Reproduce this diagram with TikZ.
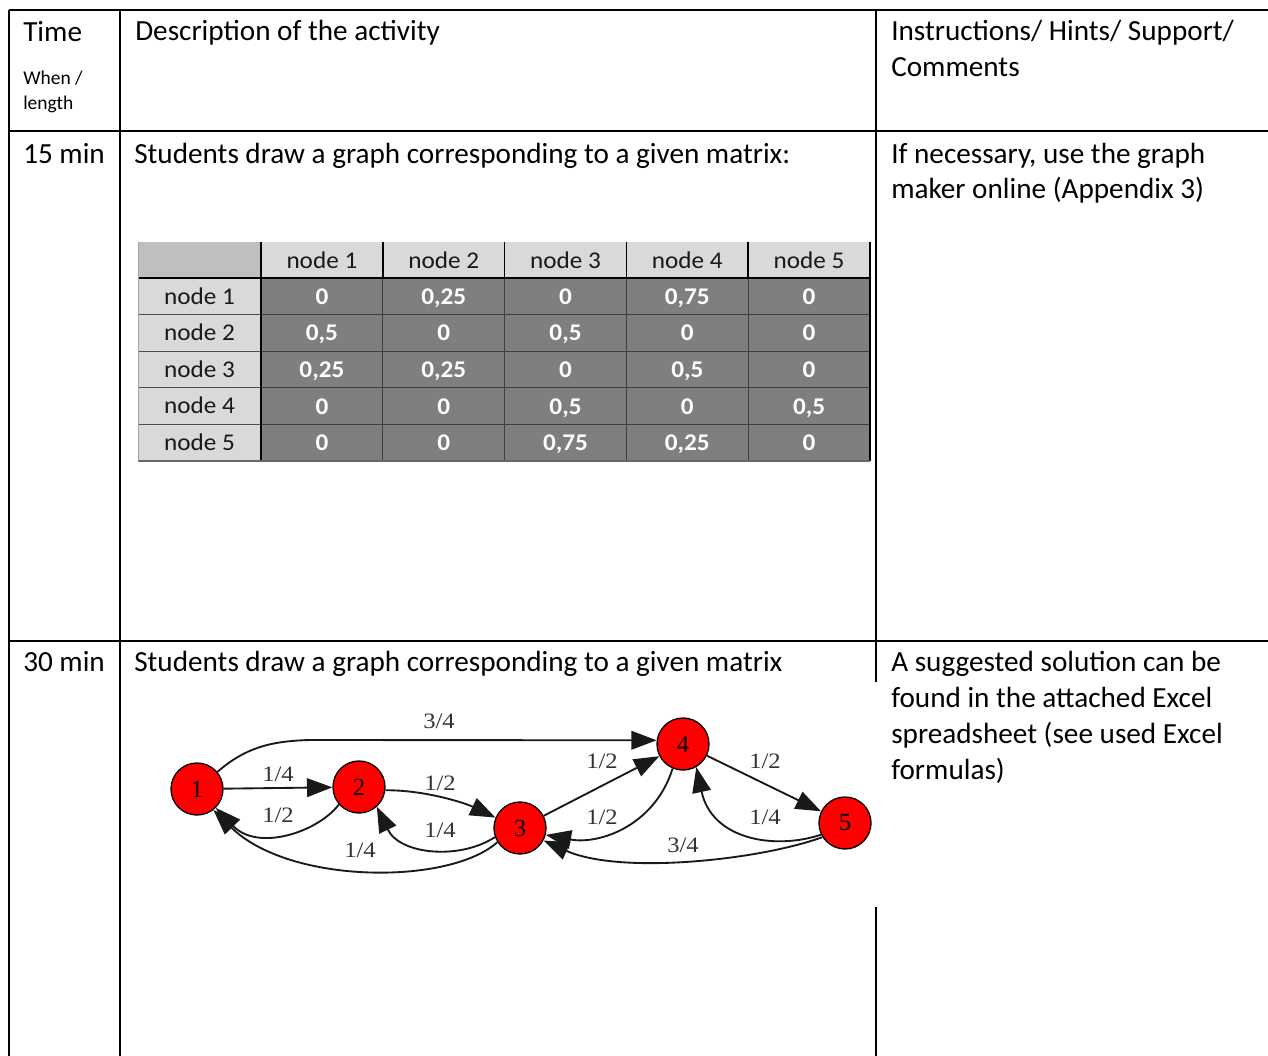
\documentclass[tikz,border=0pt]{standalone}
\usepackage{graphicx}
\usepackage{fontspec}
\setmainfont{Carlito}
\newfontfamily\tnr{Liberation Serif}
\usetikzlibrary{arrows.meta}
\definecolor{hdrgray}{HTML}{D9D9D9}
\definecolor{cornergray}{HTML}{BFBFBF}
\definecolor{cellgray}{HTML}{7F7F7F}
\definecolor{gridgray}{HTML}{3F3F3F}
\definecolor{lblgray}{HTML}{333333}
\definecolor{nodered}{HTML}{FF0000}
\begin{document}
\begin{tikzpicture}[x=0.75pt,y=-0.75pt,
  rule/.style={line width=1.5pt,black},
  maintext/.style={anchor=base west,inner sep=0pt,font=\fontsize{21.9pt}{26pt}\selectfont},
  smalltext/.style={anchor=base west,inner sep=0pt,font=\fontsize{14.6pt}{18pt}\selectfont},
  hdrtext/.style={anchor=base,inner sep=0pt,text=black!90,font=\fontsize{18pt}{21pt}\selectfont},
  valtext/.style={anchor=base,inner sep=0pt,text=white,font=\bfseries\fontsize{18pt}{21pt}\selectfont},
  gnode/.style={circle,fill=nodered,draw=black,line width=1pt,minimum size=39pt,inner sep=0pt,font=\tnr\fontsize{18.5pt}{20pt}\selectfont},
  edge/.style={line width=1.4pt,draw=black!90,-{Triangle[length=19pt,width=14pt]}},
  elabel/.style={inner sep=0pt,text=lblgray,font=\tnr\fontsize{16.5pt}{18pt}\selectfont}
]
\useasboundingbox (0,0) rectangle (1268,1056);

% ---- main table rules ----
\draw[rule] (9,10) -- (1268,10);
\draw[rule] (9,10) -- (9,1056);
\draw[rule] (120,10) -- (120,1056);
\draw[rule] (876,10) -- (876,682);
\draw[rule] (876,907) -- (876,1056);
\draw[rule] (9,131) -- (1268,131);
\draw[rule] (9,641) -- (1268,641);

% ---- header row ----
\node[maintext] (time) at (23,42) {Time};
\node[smalltext] (when) at (23,85) {When /};
\node[smalltext] (len) at (23,110) {length};
\node[maintext] (desc) at (135,41) {Description of the activity};
\node[maintext] (instr1) at (891,41) {Instructions/ Hints/ Support/};
\node[maintext] (instr2) at (891,77) {Comments};

% ---- row 1 ----
\node[maintext] (t15) at (23,163) {15 min};
\node[maintext] (d15) at (134,163) {Students draw a graph corresponding to a given matrix:};
\node[maintext] (h15a) at (891,163) {If necessary, use the graph};
\node[maintext] (h15b) at (891,198) {maker online (Appendix 3)};

% ---- matrix table ----
\fill[cornergray] (138,242) rectangle (261,278);
\fill[hdrgray] (261,242) rectangle (870,278);
\fill[hdrgray] (138,278) rectangle (261,461);
\fill[cellgray] (261,278) rectangle (870,461);
\foreach \i in {1,...,4} {
  \draw[gridgray,line width=0.8pt] (261,278+36.6*\i) -- (870,278+36.6*\i);
  \draw[black!70,line width=1pt] (138,278+36.6*\i) -- (261,278+36.6*\i);
  \draw[gridgray,line width=0.8pt] (261+121.8*\i,278) -- (261+121.8*\i,461);
}
\foreach \j in {0,...,4}
  \draw[black,line width=1.2pt] (261+121.8*\j,242) -- (261+121.8*\j,278);
\draw[black,line width=1.2pt] (261,278) -- (261,461);
\draw[black,line width=1.8pt] (138,278) -- (870,278);
\draw[black,line width=1.2pt] (870,242) -- (870,461);
\draw[black!60,line width=0.8pt] (138,461) -- (870,461);
\draw[black!35,line width=0.6pt] (138,242) -- (138,461);

\foreach \j in {1,...,5}
  \node[hdrtext] (ch\j) at (200.1+121.8*\j,268) {\scalebox{1.05}[1]{node \j}};
\foreach \i in {1,...,5}
  \node[hdrtext] (rh\i) at (199.5,267.5+36.6*\i) {\scalebox{1.05}[1]{node \i}};
\foreach \v [count=\c] in {0,{0,25},0,{0,75},0}
  \node[valtext] (va\c) at (200.1+121.8*\c,304.3) {\scalebox{1.05}[1]{\v}};
\foreach \v [count=\c] in {{0,5},0,{0,5},0,0}
  \node[valtext] (vb\c) at (200.1+121.8*\c,340.9) {\scalebox{1.05}[1]{\v}};
\foreach \v [count=\c] in {{0,25},{0,25},0,{0,5},0}
  \node[valtext] (vc\c) at (200.1+121.8*\c,377.5) {\scalebox{1.05}[1]{\v}};
\foreach \v [count=\c] in {0,0,{0,5},0,{0,5}}
  \node[valtext] (vd\c) at (200.1+121.8*\c,414.1) {\scalebox{1.05}[1]{\v}};
\foreach \v [count=\c] in {0,0,{0,75},{0,25},0}
  \node[valtext] (ve\c) at (200.1+121.8*\c,450.7) {\scalebox{1.05}[1]{\v}};

% ---- row 2 ----
\node[maintext] (t30) at (23,671) {30 min};
\node[maintext] (d30) at (134,671) {Students draw a graph corresponding to a given matrix};
\node[maintext] (s1) at (891,671) {A suggested solution can be};
\node[maintext] (s2) at (891,707) {found in the attached Excel};
\node[maintext] (s3) at (891,743) {spreadsheet (see used Excel};
\node[maintext] (s4) at (891,779) {formulas)};

% ---- graph ----
\node[gnode] (n1) at (197,789) {1};
\node[gnode] (n2) at (359,787) {2};
\node[gnode] (n3) at (520,828) {3};
\node[gnode] (n4) at (683,744) {4};
\node[gnode] (n5) at (845,823) {5};

\draw[edge] (n1) -- (n2);
\draw[edge] (n1.40) .. controls (245,748) and (270,741) .. (310,740) -- (n4.172);
\draw[edge] (n2.221) .. controls (318,832) and (258,852) .. (n1.-45);
\draw[edge] (n2.-7) .. controls (425,790) and (465,803) .. (n3.157);
\draw[edge] (n3.200) .. controls (460,860) and (400,855) .. (n2.-48);
\draw[edge] (n3.212) .. controls (450,885) and (290,885) .. (n1.-52);
\draw[edge] (n3) -- (n4);
\draw[edge] (n4.-113) .. controls (655,825) and (600,845) .. (n3.-15);
\draw[edge] (n4) -- (n5);
\draw[edge] (n5.206) .. controls (775,850) and (712,840) .. (n4.-60);
\draw[edge] (n5.212) .. controls (760,860) and (620,875) .. (n3.-28);

\node[elabel] (l14) at (439,721) {\scalebox{1.12}[1]{3/4}};
\node[elabel] (l12) at (278,774) {\scalebox{1.12}[1]{1/4}};
\node[elabel] (l21) at (278,815) {\scalebox{1.12}[1]{1/2}};
\node[elabel] (l23) at (440,783) {\scalebox{1.12}[1]{1/2}};
\node[elabel] (l32) at (440,830) {\scalebox{1.12}[1]{1/4}};
\node[elabel] (l31) at (360,850) {\scalebox{1.12}[1]{1/4}};
\node[elabel] (l34) at (602,761) {\scalebox{1.12}[1]{1/2}};
\node[elabel] (l43) at (602,817) {\scalebox{1.12}[1]{1/2}};
\node[elabel] (l45) at (765,761) {\scalebox{1.12}[1]{1/2}};
\node[elabel] (l54) at (765,817) {\scalebox{1.12}[1]{1/4}};
\node[elabel] (l53) at (683,845) {\scalebox{1.12}[1]{3/4}};
\end{tikzpicture}
\end{document}
